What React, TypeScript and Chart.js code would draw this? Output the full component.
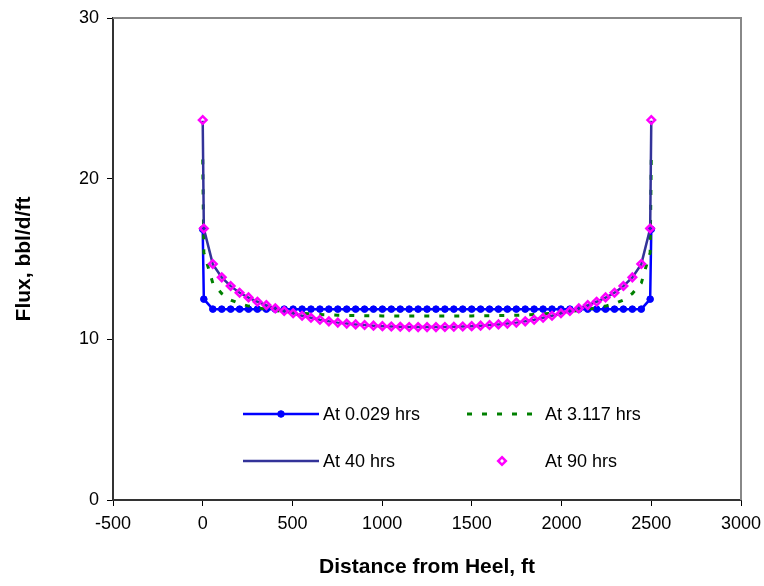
import React, { useEffect, useRef } from "react";
import { Chart, registerables } from "chart.js";

Chart.register(...registerables);

// Distance from heel (ft)
const distanceFt = [
  0, 6.25, 56.25, 106, 155.75, 205.5, 255.25, 305, 354.75, 404.5, 454.25, 504, 553.75,
  603.5, 653.25, 703, 752.75, 802.5, 852.25, 902, 951.75, 1001.5, 1051.25, 1101, 1150.75,
  1200.5, 1250.25, 1300, 1349.75, 1399.5, 1449.25, 1499, 1548.75, 1598.5, 1648.25, 1698,
  1747.75, 1797.5, 1847.25, 1897, 1946.75, 1996.5, 2046.25, 2096, 2145.75, 2195.5, 2245.25,
  2295, 2344.75, 2394.5, 2444.25, 2493.75, 2500,
];

// Flux at 0.029 hrs (bbl/d/ft)
const flux0029 = [
  16.85, 12.5, 11.88, 11.88, 11.88, 11.88, 11.88, 11.88, 11.88, 11.88, 11.88, 11.88, 11.88,
  11.88, 11.88, 11.88, 11.88, 11.88, 11.88, 11.88, 11.88, 11.88, 11.88, 11.88, 11.88,
  11.88, 11.88, 11.88, 11.88, 11.88, 11.88, 11.88, 11.88, 11.88, 11.88, 11.88,
  11.88, 11.88, 11.88, 11.88, 11.88, 11.88, 11.88, 11.88, 11.88, 11.88, 11.88,
  11.88, 11.88, 11.88, 11.88, 12.5, 16.85,
];

// Flux at 3.117 hrs
const flux3117 = [
  21.2, 15.4, 13.5, 12.85, 12.45, 12.22, 12.07, 11.96, 11.88, 11.8, 11.73, 11.67, 11.62,
  11.58, 11.55, 11.52, 11.5, 11.49, 11.48, 11.47, 11.47, 11.46, 11.46, 11.45, 11.45,
  11.45, 11.45, 11.45, 11.45, 11.45, 11.46, 11.46, 11.47, 11.47, 11.48, 11.49,
  11.5, 11.52, 11.55, 11.58, 11.62, 11.67, 11.73, 11.8, 11.88, 11.96, 12.07,
  12.22, 12.45, 12.85, 13.5, 15.4, 21.2,
];

// Flux at 40 hrs
const flux40 = [
  23.6, 16.9, 14.68, 13.85, 13.31, 12.9, 12.6, 12.34, 12.12, 11.93, 11.76, 11.61, 11.47,
  11.34, 11.22, 11.12, 11.04, 10.98, 10.93, 10.89, 10.85, 10.82, 10.8, 10.78, 10.77,
  10.76, 10.76, 10.76, 10.77, 10.78, 10.8, 10.82, 10.85, 10.89, 10.93, 10.98,
  11.04, 11.12, 11.22, 11.34, 11.47, 11.61, 11.76, 11.93, 12.12, 12.34, 12.6,
  12.9, 13.31, 13.85, 14.68, 16.9, 23.6,
];

// Flux at 90 hrs
const flux90 = [
  23.65, 16.9, 14.69, 13.86, 13.32, 12.9, 12.61, 12.34, 12.13, 11.93, 11.76, 11.62, 11.47,
  11.34, 11.22, 11.12, 11.04, 10.98, 10.93, 10.89, 10.85, 10.82, 10.8, 10.78, 10.77,
  10.76, 10.76, 10.76, 10.77, 10.78, 10.8, 10.82, 10.85, 10.89, 10.93, 10.98,
  11.04, 11.12, 11.22, 11.34, 11.47, 11.62, 11.76, 11.93, 12.13, 12.34, 12.61,
  12.9, 13.32, 13.86, 14.69, 16.9, 23.65,
];

const seriesLabels = ["At 0.029 hrs", "At 3.117 hrs", "At 40 hrs", "At 90 hrs"];
const xAxisTitle = "Distance from Heel, ft";
const yAxisTitle = "Flux, bbl/d/ft";
const xMin = -500;
const xMax = 3000;
const xStep = 500;
const yMin = 0;
const yMax = 30;
const yStep = 10;

const FONT = "'Liberation Sans', Arial, Helvetica, sans-serif";

const toPoints = (ys: number[]) => distanceFt.map((x, i) => ({ x, y: ys[i] }));

const framePlugin = {
  id: "frame",
  afterDatasetsDraw(chart: any) {
    const { ctx, chartArea } = chart;
    ctx.save();
    ctx.strokeStyle = "#888888";
    ctx.lineWidth = 2;
    ctx.beginPath();
    ctx.moveTo(chartArea.left, chartArea.top);
    ctx.lineTo(chartArea.right, chartArea.top);
    ctx.lineTo(chartArea.right, chartArea.bottom);
    ctx.stroke();
    ctx.restore();
  },
};

const legendPlugin = {
  id: "cornerLegend",
  afterDraw(chart: any) {
    const { ctx } = chart;
    const ds = chart.data.datasets;
    const slots = [
      { i: 0, x0: 243, x1: 319, tx: 323, y: 414 },
      { i: 1, x0: 467, x1: 533, tx: 545, y: 414 },
      { i: 2, x0: 243, x1: 319, tx: 323, y: 461 },
      { i: 3, x0: 467, x1: 537, tx: 545, y: 461 },
    ];
    ctx.save();
    for (const s of slots) {
      const d = ds[s.i];
      if (d.showLine !== false) {
        ctx.beginPath();
        ctx.strokeStyle = d.borderColor;
        ctx.lineWidth = d.borderWidth;
        ctx.setLineDash(d.borderDash || []);
        ctx.moveTo(s.x0, s.y);
        ctx.lineTo(s.x1, s.y);
        ctx.stroke();
        ctx.setLineDash([]);
      }
      if (d.pointRadius > 0) {
        const cx = (s.x0 + s.x1) / 2;
        ctx.lineWidth = d.pointBorderWidth;
        ctx.strokeStyle = d.pointBorderColor;
        ctx.fillStyle = d.pointBackgroundColor;
        ctx.beginPath();
        if (d.pointStyle === "rectRot") {
          const r = d.pointRadius;
          ctx.moveTo(cx, s.y - r);
          ctx.lineTo(cx + r, s.y);
          ctx.lineTo(cx, s.y + r);
          ctx.lineTo(cx - r, s.y);
          ctx.closePath();
        } else {
          ctx.arc(cx, s.y, d.pointRadius, 0, Math.PI * 2);
        }
        ctx.fill();
        ctx.stroke();
      }
      ctx.fillStyle = "#000";
      ctx.font = `18px ${FONT}`;
      ctx.textAlign = "left";
      ctx.textBaseline = "middle";
      ctx.fillText(seriesLabels[s.i], s.tx, s.y + 1);
    }
    ctx.restore();
  },
};

export default function App() {
  const canvasRef = useRef<HTMLCanvasElement | null>(null);

  useEffect(() => {
    if (!canvasRef.current) return;
    const chart = new Chart(canvasRef.current, {
      type: "line",
      data: {
        datasets: [
          {
            label: seriesLabels[0],
            data: toPoints(flux0029),
            borderColor: "#0000FF",
            borderWidth: 2.5,
            pointRadius: 3.3,
            pointBorderWidth: 1,
            pointBorderColor: "#0000FF",
            pointBackgroundColor: "#0000FF",
            pointStyle: "circle",
            order: 3,
          },
          {
            label: seriesLabels[1],
            data: toPoints(flux3117),
            borderColor: "#008000",
            borderWidth: 3,
            borderDash: [5, 10],
            pointRadius: 0,
            order: 2,
          },
          {
            label: seriesLabels[2],
            data: toPoints(flux40),
            borderColor: "#333399",
            borderWidth: 2.5,
            pointRadius: 0,
            order: 1,
          },
          {
            label: seriesLabels[3],
            data: toPoints(flux90),
            showLine: false,
            borderColor: "#FF00FF",
            pointStyle: "rectRot",
            pointRadius: 3.8,
            pointBorderWidth: 2.5,
            pointBorderColor: "#FF00FF",
            pointBackgroundColor: "rgba(0,0,0,0)",
            order: 0,
          },
        ] as any,
      },
      options: {
        responsive: false,
        animation: false,
        devicePixelRatio: 1,
        layout: { padding: { top: 18, right: 23, left: 0, bottom: 0 } },
        plugins: { legend: { display: false }, tooltip: { enabled: false } },
        scales: {
          x: {
            type: "linear",
            min: xMin,
            max: xMax,
            afterFit: (s: any) => {
              s.height = 86;
              s.paddingLeft = 0;
              s.paddingRight = 0;
            },
            ticks: {
              stepSize: xStep,
              color: "#000",
              font: { family: FONT, size: 18 },
              padding: 7,
              maxRotation: 0,
              callback: (v: any) => String(v),
            },
            grid: {
              drawOnChartArea: false,
              drawTicks: true,
              tickLength: 6,
              tickColor: "#000",
              tickWidth: 1,
            },
            border: { display: true, color: "#333", width: 2 },
            title: {
              display: true,
              text: xAxisTitle,
              color: "#000",
              font: { family: FONT, size: 21, weight: "bold" },
              padding: { top: 0, bottom: 6 },
            },
          },
          y: {
            type: "linear",
            min: yMin,
            max: yMax,
            afterFit: (s: any) => {
              s.width = 113;
              s.paddingTop = 0;
              s.paddingBottom = 0;
            },
            ticks: {
              stepSize: yStep,
              color: "#000",
              font: { family: FONT, size: 18 },
              padding: 8,
              callback: (v: any) => String(v),
            },
            grid: {
              drawOnChartArea: false,
              drawTicks: true,
              tickLength: 6,
              tickColor: "#000",
              tickWidth: 1,
            },
            border: { display: true, color: "#333", width: 2 },
            title: {
              display: true,
              text: yAxisTitle,
              color: "#000",
              font: { family: FONT, size: 21, weight: "bold" },
              padding: { top: 12, bottom: 0 },
            },
          },
        },
      } as any,
      plugins: [framePlugin, legendPlugin],
    });
    return () => chart.destroy();
  }, []);

  return (
    <div style={{ position: "fixed", left: 0, top: 0, width: 764, height: 586, background: "#fff" }}>
      <canvas ref={canvasRef} width={764} height={586} style={{ display: "block" }} />
    </div>
  );
}
